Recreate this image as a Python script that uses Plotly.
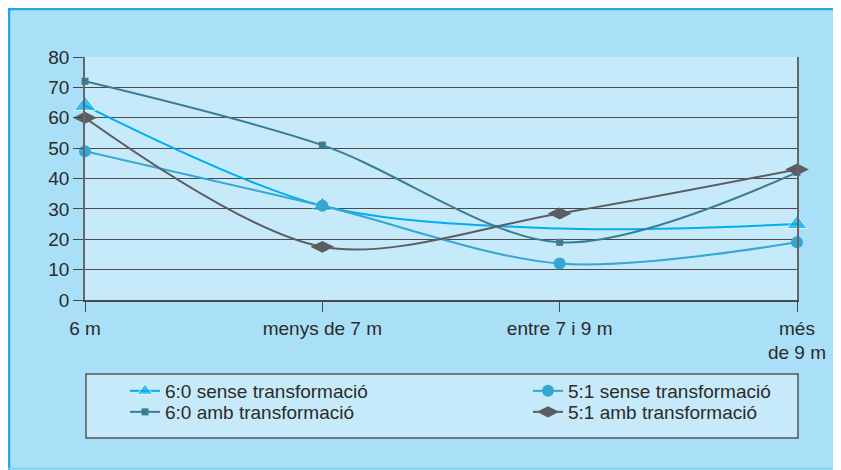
import plotly.graph_objects as go

# ---- data ----
categories = ["6 m", "menys de 7 m", "entre 7 i 9 m", "més<br>de 9 m"]
x_pos = [0, 1, 2, 3]

sense_60 = [64, 31, 23.5, 25]
amb_60 = [72, 51, 19, 42]
sense_51 = [49, 31, 12, 19]
amb_51 = [60, 17.5, 28.5, 43]

y_ticks = [0, 10, 20, 30, 40, 50, 60, 70, 80]

# ---- layout constants ----
# the page body has an 8px margin, so the figure is drawn 8px in from the corner
OFF = 8
W, H = 841 - 2 * OFF, 470 - OFF
L, T = 85 - OFF, 57 - OFF
R = W - (797 - OFF)
B = H - (300 - OFF)
PW, PH = W - L - R, H - T - B

FONT = "Liberation Sans, Arial, sans-serif"
FSIZE = 19
TEXT = "#2b2b2b"
GRID = "#4a4a4a"
PANEL = "#C6EAF9"
BACK = "#AADFF8"
FRAME = "#1EA9E1"


def px_x(px):
    # screen pixel -> paper x
    return (px - OFF - L) / PW


def px_y(py):
    # screen pixel -> paper y
    return (H - B - (py - OFF)) / PH


# name, values, colour, symbol, size, legend id, legend position (screen px)
series = [
    ("6:0 sense transformació", sense_60, "#00AEEF", "triangle-up", [19, 18, 0, 18], "legend", (125, 372)),
    ("6:0 amb transformació", amb_60, "#3B7C95", "square", 7, "legend2", (125, 393)),
    ("5:1 sense transformació", sense_51, "#34A8D2", "circle", 12, "legend3", (528, 372)),
    ("5:1 amb transformació", amb_51, "#5D5D61", "diamond-wide", 17, "legend4", (528, 393)),
]

fig = go.Figure()
for name, vals, color, symbol, size, leg, _ in series:
    fig.add_trace(go.Scatter(
        x=x_pos, y=vals, name=name, mode="lines+markers",
        line=dict(color=color, width=2, shape="spline", smoothing=0.9),
        marker=dict(symbol=symbol, size=size, color=color),
        cliponaxis=False, legend=leg,
    ))

shapes = [
    # outer frame: top and left edges, faint bottom edge
    dict(type="line", xref="paper", yref="paper", layer="below",
         x0=px_x(OFF), x1=px_x(900), y0=px_y(OFF + 1), y1=px_y(OFF + 1),
         line=dict(color=FRAME, width=2.5)),
    dict(type="line", xref="paper", yref="paper", layer="below",
         x0=px_x(OFF + 1), x1=px_x(OFF + 1), y0=px_y(OFF), y1=px_y(500),
         line=dict(color=FRAME, width=2.5)),
    dict(type="line", xref="paper", yref="paper", layer="below",
         x0=px_x(OFF), x1=px_x(900), y0=px_y(468.5), y1=px_y(468.5),
         line=dict(color="#7ACDEE", width=1.5)),
    # legend box
    dict(type="rect", xref="paper", yref="paper", layer="below",
         x0=px_x(86), x1=px_x(798), y0=px_y(438), y1=px_y(374),
         fillcolor=PANEL, line=dict(color="#555555", width=1.5)),
]

legend_style = dict(
    orientation="h", yanchor="top", xanchor="left",
    bgcolor="rgba(0,0,0,0)", borderwidth=0,
    font=dict(family=FONT, size=FSIZE, color=TEXT),
    itemsizing="trace",
)
legends = {
    leg: dict(x=px_x(lx), y=px_y(ly), **legend_style)
    for _, _, _, _, _, leg, (lx, ly) in series
}

fig.update_layout(
    width=W, height=H,
    margin=dict(l=L, r=R, t=T, b=B, autoexpand=False),
    paper_bgcolor=BACK,
    plot_bgcolor=PANEL,
    font=dict(family=FONT, size=FSIZE, color=TEXT),
    showlegend=True,
    **legends,
    xaxis=dict(
        range=[0, 3], tickvals=x_pos, ticktext=categories,
        showgrid=False, zeroline=False, automargin=False,
        showline=True, linecolor=GRID, linewidth=1.5,
        ticks="outside", ticklen=10, tickcolor=GRID,
        tickfont=dict(family=FONT, size=FSIZE, color=TEXT),
        fixedrange=True,
    ),
    yaxis=dict(
        range=[0, 80], tickvals=y_ticks,
        showgrid=True, gridcolor=GRID, gridwidth=1,
        zeroline=False, automargin=False,
        showline=True, linecolor="#666666", linewidth=1.5,
        mirror=True,
        ticks="outside", ticklen=10, tickcolor=GRID,
        tickfont=dict(family=FONT, size=FSIZE, color=TEXT),
        fixedrange=True,
    ),
    shapes=shapes,
)

fig.write_html("out.html")
